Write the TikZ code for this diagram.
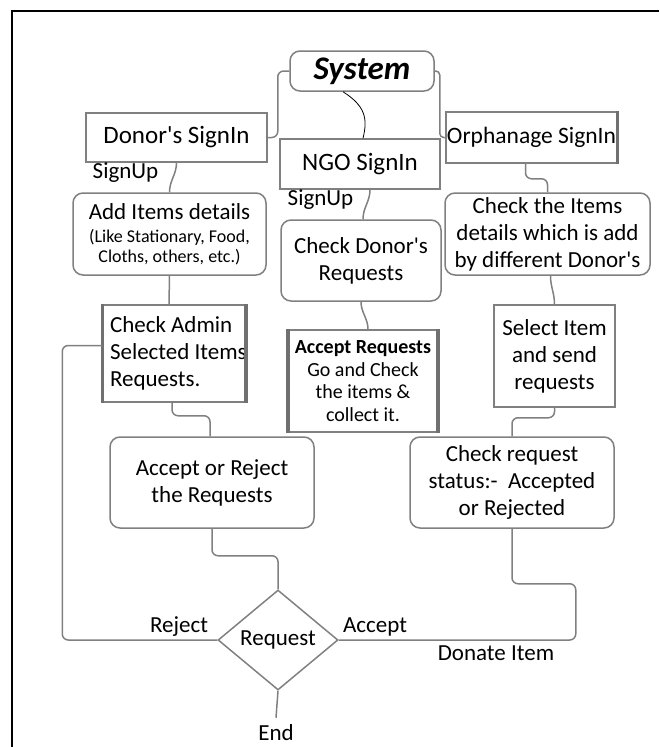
\documentclass[tikz,border=0pt]{standalone}
\usepackage{fontspec}
\setmainfont{Carlito}
\usetikzlibrary{shapes.geometric}

\definecolor{linegray}{RGB}{128,128,128}
\definecolor{sidegray}{RGB}{112,112,112}

\tikzset{
  box/.style={draw=linegray, line width=1.5pt, inner sep=0pt, align=center, font=\fontsize{23}{27}\selectfont},
  roundbox/.style={box, rounded corners=10pt},
  link/.style={draw=linegray, line width=1.5pt, rounded corners=6pt},
  thickside/.style={draw=sidegray, line width=3.5pt},
  lbl/.style={font=\fontsize{23}{27}\selectfont, inner sep=0pt}
}
\newcommand{\apos}{\textquotesingle}

\begin{document}
\begin{tikzpicture}[x=1pt,y=-1pt]
	\useasboundingbox (0,0) rectangle (659,747);
	\draw[line width=2.5pt] (12,747) -- (12,11) -- (659,11);

	% top row
	\node[roundbox, minimum width=144pt, minimum height=40pt, font=\fontsize{33}{36}\selectfont\bfseries\itshape] (sys) at (362,71) {System};
	\node[box, minimum width=181pt, minimum height=49pt, font=\fontsize{25}{29}\selectfont] (donor) at (176.5,137.5) {Donor\apos s SignIn};
	\node[box, minimum width=160pt, minimum height=50pt, font=\fontsize{25}{29}\selectfont] (ngo) at (360,164) {NGO SignIn};
	\node[box, minimum width=171pt, minimum height=51pt, font=\fontsize{23.5}{27}\selectfont] (orph) at (531.5,137.5) {Orphanage SignIn};
	\draw[thickside, line width=3pt] (orph.north east) -- (orph.south east);

	% second row
	\node[roundbox, minimum width=193pt, minimum height=82pt] (additems) at (169.5,234) {Add Items details\\[-4pt] \fontsize{18}{21}\selectfont (Like Stationary, Food,\\[-7pt] \fontsize{18}{21}\selectfont Cloths, others, etc.)};
	\node[roundbox, minimum width=160pt, minimum height=81pt] (checkdonor) at (361,260.5) {Check Donor\apos s\\Requests};
	\node[roundbox, minimum width=205pt, minimum height=82pt] (checkitems) at (547.5,234) {Check the Items\\details which is add\\by different Donor\apos s};

	% third row
	\node[box, minimum width=142pt, minimum height=97pt, align=flush left, text width=128pt, inner xsep=7pt] (admin) at (174,353.5) {Check Admin\\\mbox{Selected Items}\\Requests.};
	\draw[thickside] (admin.north west) -- (admin.south west);
	\draw[thickside] (admin.north east) -- (admin.south east);
	\node[box, minimum width=148pt, minimum height=102pt, font=\fontsize{20}{22.5}\selectfont] (accreq) at (363,381) {\textbf{Accept Requests}\\Go and Check\\the items \&\\collect it.};
	\draw[thickside, line width=4pt] (accreq.north west) -- (accreq.south west);
	\draw[thickside, line width=4pt] (accreq.north east) -- (accreq.south east);
	\node[box, minimum width=121pt, minimum height=102pt] (select) at (554.5,356) {Select Item\\and send\\requests};

	% fourth row
	\node[roundbox, minimum width=204pt, minimum height=91pt] (accrej) at (212,482.5) {Accept or Reject\\the Requests};
	\node[roundbox, minimum width=204pt, minimum height=91pt] (status) at (512,482.5) {Check request\\status:-~~Accepted\\or Rejected};

	% decision
	\node[diamond, draw=linegray, line width=1.5pt, inner sep=0pt, minimum width=120pt, minimum height=100pt, font=\fontsize{23}{27}\selectfont] (request) at (278,640) {Request};
	\node[lbl] (endn) at (276,733) {End};

	% labels
	\node[lbl] (signup1) at (125.5,173) {SignUp};
	\node[lbl] (signup2) at (320.5,200) {SignUp};
	\node[lbl] (reject) at (179,627) {Reject};
	\node[lbl] (accept) at (375,627) {Accept};
	\node[lbl] (donate) at (496,653) {Donate Item};

	% connectors
	\draw[link] (donor.east) -- ++(10,0) |- (sys.west);
	\draw[link, rounded corners=4pt] (sys.east) -- ++(5,0) |- (orph.west);
	\draw[line width=0.8pt] ([xshift=-19pt]sys.south) .. controls +(22,14) and +(5,-20) .. ([xshift=3pt]ngo.north);
	\draw[link] (donor.south) to[out=-90,in=90] (additems.north);
	\draw[link] ([xshift=10pt]ngo.south) to[out=-90,in=90] ([xshift=2pt]checkdonor.north);
	\draw[link] ([xshift=-6pt]orph.south) -- ++(0,15) -| (checkitems.north);
	\draw[link] (additems.south) -- ([xshift=-5pt]admin.north);
	\draw[link] (checkdonor.south) to[out=-90,in=90] ([xshift=5pt]accreq.north);
	\draw[link] ([xshift=3pt]checkitems.south) to[out=-90,in=90] (select.north);
	\draw[link] ([xshift=-2pt]admin.south) -- ++(0,13) -| ([xshift=-2pt]accrej.north);
	\draw[link] (select.south) -- ++(0,10) -| (status.north);
	\draw[link] (accrej.south) -- ++(0,27) -| (request.north);
	\draw[link] (status.south) -- ++(0,55) -| ([xshift=237pt]request.east) -- (request.east);
	\draw[link] ([yshift=8pt]admin.west) -| ([xshift=-155pt]request.west) -- (request.west);
	\draw[link] (request.south) -- ([yshift=7pt]endn.north);
\end{tikzpicture}
\end{document}
